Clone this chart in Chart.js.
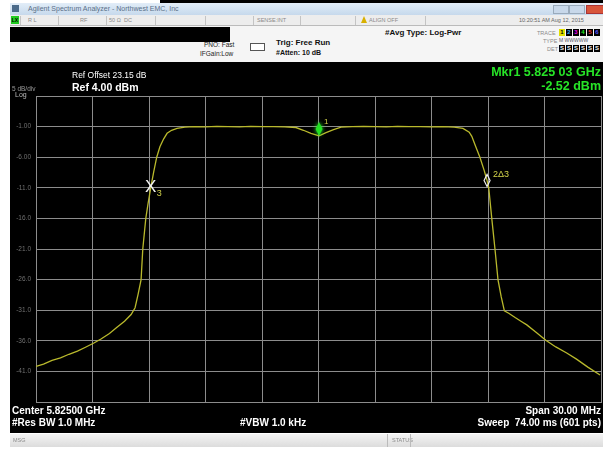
<!DOCTYPE html>
<html>
<head>
<meta charset="utf-8">
<script src="https://cdn.jsdelivr.net/npm/chart.js@4.4.1/dist/chart.umd.min.js"></script>
<style>
    html, body { margin: 0; padding: 0; }
    body { width: 603px; height: 450px; position: relative; background: #fff; overflow: hidden; font-family: 'Liberation Sans', Arial, sans-serif; }
    .abs { position: absolute; white-space: nowrap; }
    #titleBar { left: 10px; top: 3px; width: 593px; height: 12px; background: linear-gradient(#e2edf8, #c6d9ec); }
    #statusRow { left: 10px; top: 15px; width: 593px; height: 10px; background: #ededed; border-bottom: 1px solid #bbb; }
    #infoPanel { left: 10px; top: 26px; width: 593px; height: 36px; background: #f5f5f5; }
    #blackBar { left: 10px; top: 27px; width: 220px; height: 15px; background: #000; }
    #screen { left: 10px; top: 62px; width: 593px; height: 371px; background: #000; }
    #msgBar { left: 10px; top: 434px; width: 593px; height: 13px; background: linear-gradient(#f4f4f4, #dcdcdc); }
    .tiny { font-size: 5.5px; color: #8a8a8a; }
    .sep { position: absolute; top: 16px; width: 1px; height: 9px; background: #c4c4c4; }
    .w { color: #fff; font-weight: bold; }
    .g { color: #27e427; font-weight: bold; font-size: 12.5px; }
    .trow { font-size: 0; line-height: 0; }
    .tbox { display: inline-block; width: 6px; height: 7px; font-size: 6px; line-height: 7px; text-align: center; margin-left: 1px; font-weight: bold; vertical-align: top; }
</style>
</head>
<body>
<div class="abs" style="left:160px;top:0;width:443px;height:3px;background:#000"></div>
<div id="titleBar" class="abs"></div>
<div class="abs" style="left:12px;top:5px;width:7px;height:7px;background:#4a6a8a"></div>
<div class="abs" style="left:28px;top:5px;font-size:7px;color:#5a6f88">Agilent Spectrum Analyzer - Northwest EMC, Inc</div>
<div class="abs" style="left:553px;top:5px;width:14px;height:7px;background:#c8d8ea;border:1px solid #9ab"></div>
<div class="abs" style="left:569px;top:5px;width:14px;height:7px;background:#c8d8ea;border:1px solid #9ab"></div>
<div class="abs" style="left:586px;top:5px;width:16px;height:7px;background:#d8553a;border:1px solid #a33"></div>

<div id="statusRow" class="abs"></div>
<div class="abs" style="left:11px;top:16px;width:8px;height:8px;background:#22cc22;font-size:5px;line-height:8px;text-align:center;font-weight:bold">LX</div>
<div class="abs tiny" style="left:28px;top:17px">R L</div>
<div class="abs tiny" style="left:80px;top:17px">RF</div>
<div class="abs tiny" style="left:109px;top:17px">50 Ω</div>
<div class="abs tiny" style="left:124px;top:17px">DC</div>
<div class="abs tiny" style="left:257px;top:17px">SENSE:INT</div>
<div class="abs" style="left:361px;top:16px;width:0;height:0;border-left:3px solid transparent;border-right:3px solid transparent;border-bottom:7px solid #d8b000"></div>
<div class="abs tiny" style="left:369px;top:17px">ALIGN OFF</div>
<div class="abs tiny" style="left:519px;top:17px;color:#666">10:20:51 AM Aug 12, 2015</div>
<div class="sep" style="left:20px"></div>
<div class="sep" style="left:58px"></div>
<div class="sep" style="left:106px"></div>
<div class="sep" style="left:155px"></div>
<div class="sep" style="left:205px"></div>
<div class="sep" style="left:253px"></div>
<div class="sep" style="left:300px"></div>
<div class="sep" style="left:355px"></div>
<div class="sep" style="left:425px"></div>

<div id="infoPanel" class="abs"></div>
<div id="blackBar" class="abs"></div>
<div class="abs" style="left:204px;top:41px;font-size:6.5px;color:#222">PNO: Fast</div>
<div class="abs" style="left:200px;top:50px;font-size:6.5px;color:#222">IFGain:Low</div>
<div class="abs" style="left:250px;top:43px;width:13px;height:6px;border:1px solid #555;background:#fff"></div>
<div class="abs" style="left:276px;top:38px;font-size:8px;font-weight:bold;color:#111">Trig: Free Run</div>
<div class="abs" style="left:276px;top:49px;font-size:7px;font-weight:bold;color:#111">#Atten: 10 dB</div>
<div class="abs" style="left:385px;top:28px;font-size:8px;font-weight:bold;color:#111">#Avg Type: Log-Pwr</div>
<div class="abs tiny" style="left:537px;top:30px">TRACE</div>
<div class="abs tiny" style="left:543px;top:38px">TYPE</div>
<div class="abs tiny" style="left:547px;top:46px">DET</div>
<div class="abs trow" style="left:558px;top:29px">
    <span class="tbox" style="background:#e0e000;color:#000">1</span><span class="tbox" style="background:#000;color:#3af">2</span><span class="tbox" style="background:#000;color:#e0e">3</span><span class="tbox" style="background:#000;color:#2e2">4</span><span class="tbox" style="background:#000;color:#e33">5</span><span class="tbox" style="background:#000;color:#55f">6</span>
</div>
<div class="abs" style="left:559px;top:37px;font-size:5px;color:#556">M WWWWW</div>
<div class="abs trow" style="left:558px;top:45px">
    <span class="tbox" style="background:#000;color:#fff">S</span><span class="tbox" style="background:#000;color:#fff">S</span><span class="tbox" style="background:#000;color:#fff">S</span><span class="tbox" style="background:#000;color:#fff">S</span><span class="tbox" style="background:#000;color:#fff">S</span><span class="tbox" style="background:#000;color:#fff">S</span>
</div>

<div id="screen" class="abs">
    <canvas id="spectrumChart" width="593" height="371"></canvas>
</div>
<div class="abs" style="left:72px;top:70px;font-size:8.5px;color:#fff">Ref Offset 23.15 dB</div>
<div class="abs w" style="left:72px;top:81px;font-size:10.5px">Ref 4.00 dBm</div>
<div class="abs" style="left:12px;top:85px;font-size:6.5px;color:#9a9a9a">5 dB/div</div>
<div class="abs" style="left:15px;top:91px;font-size:7px;color:#bbb">Log</div>
<div class="abs g" style="right:2px;top:65px">Mkr1 5.825 03 GHz</div>
<div class="abs g" style="right:2px;top:79px">-2.52 dBm</div>

<div class="abs w" style="left:12px;top:405px;font-size:10px">Center 5.82500 GHz</div>
<div class="abs w" style="left:12px;top:417px;font-size:10px">#Res BW 1.0 MHz</div>
<div class="abs w" style="left:240px;top:417px;font-size:10px">#VBW 1.0 kHz</div>
<div class="abs w" style="right:2px;top:405px;font-size:10px">Span 30.00 MHz</div>
<div class="abs w" style="right:2px;top:417px;font-size:10px">Sweep&nbsp; 74.00 ms (601 pts)</div>

<div id="msgBar" class="abs"></div>
<div class="abs tiny" style="left:13px;top:437px">MSG</div>
<div class="abs" style="left:387px;top:434px;width:1px;height:13px;background:#bbb"></div>
<div class="abs tiny" style="left:392px;top:437px">STATUS</div>
<div class="abs" style="left:410px;top:434px;width:1px;height:13px;background:#bbb"></div>

<script>
// trace: frequency in MHz, level in dBm
const freqMHz = [
    5810.00, 5810.40, 5810.85, 5811.30, 5811.75, 5812.20, 5812.60, 5813.05, 5813.45, 5813.90,
    5814.30, 5814.70, 5815.05, 5815.26, 5815.42, 5815.58, 5815.67, 5815.83, 5815.95, 5816.09,
    5816.25, 5816.41, 5816.58, 5816.78, 5816.96, 5817.20, 5817.49, 5817.90, 5818.40, 5819.00,
    5819.60, 5820.20, 5820.80, 5821.40, 5822.00, 5822.60, 5823.20, 5823.80, 5824.20, 5824.60,
    5825.03, 5825.40, 5825.80, 5826.20, 5826.80, 5827.40, 5828.00, 5828.60, 5829.20, 5829.80,
    5830.40, 5831.00, 5831.60, 5832.20, 5832.67, 5833.00, 5833.14, 5833.30, 5833.57, 5833.80,
    5833.95, 5834.04, 5834.20, 5834.37, 5834.53, 5834.70, 5834.87, 5835.10, 5835.44, 5835.75,
    5836.06, 5836.55, 5837.07, 5837.60, 5838.18, 5838.70, 5839.30, 5839.95
];
const levelDbm = [
    -40.2, -39.8, -39.2, -38.8, -38.2, -37.7, -37.1, -36.4, -35.7, -34.8,
    -33.8, -32.8, -31.7, -30.6, -28.4, -26.0, -21.0, -16.0, -13.6, -11.0,
    -8.4, -6.0, -4.3, -3.0, -2.1, -1.6, -1.3, -1.1, -1.0, -1.05,
    -0.95, -1.0, -1.05, -0.95, -1.0, -1.0, -1.05, -1.15, -1.6, -2.1,
    -2.52, -2.0, -1.5, -1.1, -1.0, -0.95, -1.0, -1.05, -0.95, -1.0,
    -1.0, -1.05, -1.0, -1.1, -1.3, -1.9, -2.6, -3.9, -6.0, -8.2,
    -9.8, -11.0, -16.0, -21.0, -26.0, -28.8, -31.1, -31.5, -32.2, -32.8,
    -33.4, -34.6, -35.9, -37.0, -38.0, -39.0, -40.3, -41.6
];

// markers
const markerNames = ['1', '2Δ3', '3'];
const markerFreqMHz = [5825.03, 5833.95, 5816.09];
const markerLevelDbm = [-2.52, -9.8, -11.0];

// axis settings from the screen: ref 4 dBm, 5 dB/div, center 5825 MHz, span 30 MHz
const yTickValues = [-1, -6, -11, -16, -21, -26, -31, -36, -41];
const yTickLabels = ['-1.00', '-6.00', '-11.0', '-16.0', '-21.0', '-26.0', '-31.0', '-36.0', '-41.0'];
const refLevel = 4;
const dbPerDiv = 5;
const startMHz = 5810;
const stopMHz = 5840;

const traceColor = '#b9b92c';
const labelColor = '#d2d24a';
const gridColor = '#8c8c8c';

const markerPlugin = {
    id: 'markers',
    afterDatasetsDraw(chart) {
        const { ctx, scales: { x, y } } = chart;
        ctx.save();
        markerNames.forEach((name, i) => {
            const px = x.getPixelForValue(markerFreqMHz[i]);
            const py = y.getPixelForValue(markerLevelDbm[i]);
            if (name === '1') {
                // filled green diamond sitting on the trace
                ctx.shadowColor = '#3f3';
                ctx.shadowBlur = 4;
                ctx.fillStyle = '#22e022';
                ctx.beginPath();
                ctx.moveTo(px, py);
                ctx.lineTo(px + 3.5, py - 7);
                ctx.lineTo(px, py - 14);
                ctx.lineTo(px - 3.5, py - 7);
                ctx.closePath();
                ctx.fill();
                ctx.shadowBlur = 0;
                ctx.fillStyle = labelColor;
                ctx.font = '8px "Liberation Sans", Arial';
                ctx.fillText(name, px + 5, py - 12);
            } else if (name === '2Δ3') {
                ctx.strokeStyle = '#eee';
                ctx.lineWidth = 1.2;
                ctx.beginPath();
                ctx.moveTo(px, py + 6);
                ctx.lineTo(px + 3, py);
                ctx.lineTo(px, py - 6);
                ctx.lineTo(px - 3, py);
                ctx.closePath();
                ctx.stroke();
                ctx.fillStyle = labelColor;
                ctx.font = '9px "Liberation Sans", Arial';
                ctx.fillText(name, px + 6, py - 3);
            } else {
                ctx.fillStyle = '#f4f4f4';
                ctx.font = '17px "Liberation Sans", Arial';
                ctx.textAlign = 'center';
                ctx.textBaseline = 'middle';
                ctx.fillText('X', px, py);
                ctx.textAlign = 'left';
                ctx.fillStyle = labelColor;
                ctx.font = '9px "Liberation Sans", Arial';
                ctx.fillText(name, px + 6, py + 6);
                ctx.textBaseline = 'alphabetic';
            }
        });
        ctx.restore();
    }
};

const createSpectrumChart = () => {
    const ctx = document.getElementById('spectrumChart');
    return new Chart(ctx, {
        type: 'scatter',
        data: {
            datasets: [{
                data: freqMHz.map((f, i) => ({ x: f, y: levelDbm[i] })),
                showLine: true,
                borderColor: traceColor,
                borderWidth: 1.3,
                pointRadius: 0,
                tension: 0
            }]
        },
        options: {
            responsive: false,
            animation: false,
            layout: {
                padding: { top: 34, right: 2, bottom: 31, left: 0 }
            },
            plugins: {
                legend: { display: false },
                tooltip: { enabled: false }
            },
            scales: {
                x: {
                    type: 'linear',
                    min: startMHz,
                    max: stopMHz,
                    afterFit: (s) => { s.height = 0; },
                    ticks: { display: false, stepSize: (stopMHz - startMHz) / 10 },
                    grid: { color: gridColor, drawTicks: false, lineWidth: 1 },
                    border: { color: gridColor, width: 1 }
                },
                y: {
                    min: refLevel - 10 * dbPerDiv,
                    max: refLevel,
                    afterFit: (s) => { s.width = 26; },
                    ticks: {
                        stepSize: dbPerDiv,
                        color: '#707070',
                        padding: 5,
                        font: { size: 6.5, family: 'Liberation Sans' },
                        callback: (value) => {
                            const k = yTickValues.indexOf(value);
                            return k >= 0 ? yTickLabels[k] : '';
                        }
                    },
                    grid: { color: gridColor, drawTicks: false, lineWidth: 1 },
                    border: { color: gridColor, width: 1 }
                }
            }
        },
        plugins: [markerPlugin]
    });
};

createSpectrumChart();
</script>
</body>
</html>
